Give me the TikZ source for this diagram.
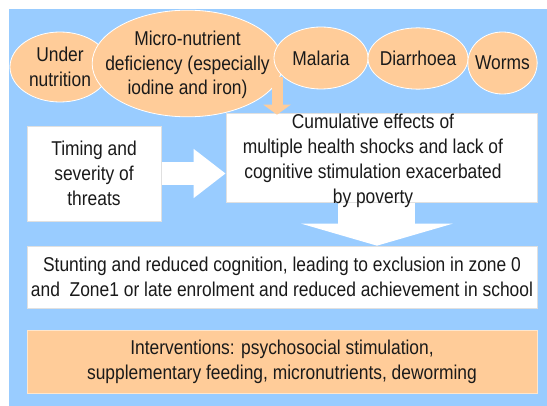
\documentclass[tikz,border=0pt]{standalone}
\usepackage{fontspec}
\setmainfont{Liberation Sans}[FakeStretch=0.87]
\usetikzlibrary{positioning,shapes.geometric,arrows.meta,backgrounds}
\definecolor{skyblue}{HTML}{99CCFF}
\definecolor{peach}{HTML}{FFCC99}
\definecolor{ink}{HTML}{1A1A1A}
\tikzset{
  blob/.style={ellipse, fill=peach, draw=white, line width=0.6pt, inner sep=0pt},
  panel/.style={rectangle, fill=white, draw=black!12, line width=0.5pt, inner sep=0pt},
}

\begin{document}
\begin{tikzpicture}[x=0.75pt,y=-0.75pt,font=\fontsize{15}{18.6}\selectfont,text=ink]
        \useasboundingbox (0,0) rectangle (547,406);
        % the threats, as ellipses along the top
        \node[blob, minimum width=75pt, minimum height=52.5pt,
              label={[align=center]center:Under\\nutrition}] (under) at (60,67) {};
        \node[blob, minimum width=143pt, minimum height=80pt,
              label={[align=center,yshift=-1pt]center:Micro-nutrient\\deficiency (especially\\iodine and iron)}] (micro) at (187.5,63.5) {};
        \node[blob, minimum width=70.5pt, minimum height=46.5pt,
              label=center:Malaria] (malaria) at (321,58) {};
        \node[blob, minimum width=75pt, minimum height=46pt,
              label=center:Diarrhoea] (diarr) at (418,58.5) {};
        \node[blob, minimum width=52pt, minimum height=46.5pt,
              label=center:Worms] (worms) at (502.5,63) {};
        % white boxes
        \node[panel, minimum width=100.5pt, minimum height=71.25pt, align=center] (timing) at (94,173.5)
              {Timing and\\severity of\\threats};
        \node[panel, minimum width=233.25pt, minimum height=66.75pt,
              label={[align=center,xshift=-6.4pt,yshift=-2.6pt]center:Cumulative effects of\\multiple health shocks and lack of\\cognitive stimulation exacerbated\\by poverty}] (cum) at (381.5,157.5) {};
        \node[panel, minimum width=382.5pt, minimum height=46.5pt, align=center] (stunt) at (282,277)
              {Stunting and reduced cognition, leading to exclusion in zone 0\\and~ Zone1 or late enrolment and reduced achievement in school};
        \node[panel, fill=peach, draw=peach!50!white, minimum width=382.5pt, minimum height=47.25pt, align=center] (interv) at (282,361.5)
              {Interventions: psychosocial stimulation,\\supplementary feeding, micronutrients, deworming};
        % block arrows
        \draw[peach, line width=8.25pt, -{Triangle[width=20.25pt,length=7.5pt]}, shorten >=-1.5pt]
              ([yshift=4pt]micro.-12) -- (micro.-12 |- cum.north);
        \begin{scope}[on background layer]
        \fill[skyblue] (9,9) rectangle (547,406);
        \draw[white, line width=17.25pt, -{Triangle[width=35.25pt,length=24pt]}]
              (timing.east) -- (timing.east -| cum.west);
        \draw[white, line width=57.75pt, -{Triangle[width=113.25pt,length=16.5pt]}]
              ([xshift=-3.4pt]cum.south) -- ([xshift=-3.4pt]cum.south |- stunt.north);
        \end{scope}
\end{tikzpicture}
\end{document}
